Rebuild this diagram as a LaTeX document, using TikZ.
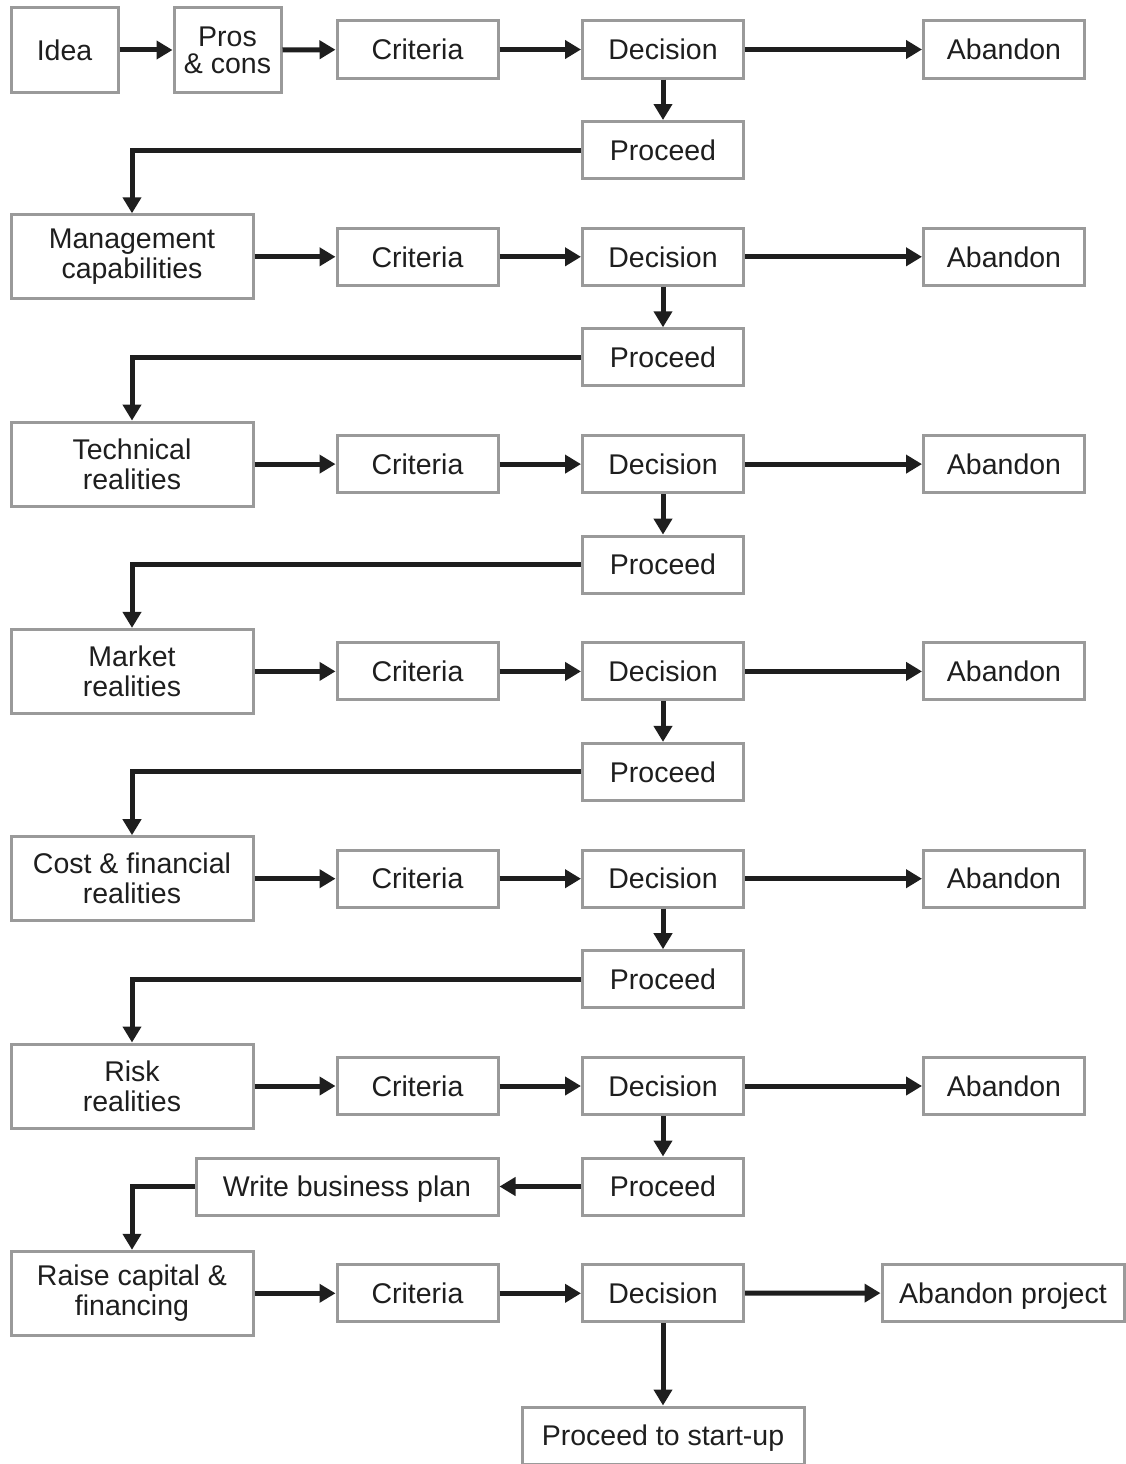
\documentclass[tikz,border=0pt]{standalone}
\usepackage{fontspec}
\setmainfont{Liberation Sans}
\usetikzlibrary{arrows.meta}
\definecolor{boxgray}{HTML}{9A9A9A}
\definecolor{ink}{HTML}{1E1E1E}
\begin{document}
\begin{tikzpicture}[x=1pt,y=-1pt,
  box/.style={draw=boxgray, line width=3pt, fill=white, inner sep=0pt, align=center,
    text=ink, font=\fontsize{28.5}{30}\selectfont},
  one/.style={text height=20.4pt, text depth=0pt},
  small/.style={box, one, minimum width=161pt, minimum height=57pt},
  big/.style={box, minimum width=242pt, minimum height=84pt},
  conn/.style={draw=ink, line width=5pt, -{Triangle[length=16pt,width=18pt]}}]
\useasboundingbox (0,0) rectangle (1125,1464);
% first row
\node[box, one, minimum width=107pt, minimum height=84pt] (idea) at (64.5,50) {Idea};
\node[box, minimum width=107pt, minimum height=84pt] (pros) at (227.5,50) {Pros\\[-3pt]\& cons};
% rows
\foreach \k/\lbl in {2/{Management\\capabilities},3/{Technical\\realities},4/{Market\\realities},5/{Cost \& financial\\realities},6/{Risk\\realities},7/{Raise capital \&\\financing}} {
  \pgfmathsetmacro{\yy}{49.5+207.3*(\k-1)}
  \node[big] (left\k) at (132,\yy) {\lbl};
}
\foreach \k in {1,...,7} {
  \pgfmathsetmacro{\yy}{49.5+207.3*(\k-1)}
  \node[small] (crit\k) at (417.5,\yy) {Criteria};
  \node[small] (dec\k) at (663,\yy) {Decision};
}
\foreach \k in {1,...,6} {
  \pgfmathsetmacro{\yy}{49.5+207.3*(\k-1)}
  \node[small] (ab\k) at (1004,\yy) {Abandon};
  \pgfmathsetmacro{\py}{\yy+100.5}
  \node[small] (pro\k) at (663,\py) {Proceed};
}
\node[box, one, minimum width=242pt, minimum height=57pt] (ab7) at (1003,1293) {Abandon project};
\node[box, one, minimum width=302pt, minimum height=57pt] (wbp) at (347,1186.5) {Write business plan};
\node[box, one, minimum width=282pt, minimum height=57pt] (start) at (663,1435.5) {Proceed to start-up};
% connectors
\draw[conn] (idea) -- (pros);
\draw[conn] (pros) -- (crit1);
\foreach \k in {2,...,7} { \draw[conn] (left\k) -- (crit\k); }
\foreach \k in {1,...,7} {
  \draw[conn] (crit\k) -- (dec\k);
  \draw[conn] (dec\k) -- (ab\k);
}
\foreach \k in {1,...,6} { \draw[conn] (dec\k) -- (pro\k); }
\foreach \k/\n in {1/2,2/3,3/4,4/5,5/6} {
  \draw[conn] (pro\k.west) -| (left\n.north);
}
\draw[conn] (pro6) -- (wbp);
\draw[conn] (wbp.west) -| (left7.north);
\draw[conn] (dec7) -- (start);
\end{tikzpicture}
\end{document}
